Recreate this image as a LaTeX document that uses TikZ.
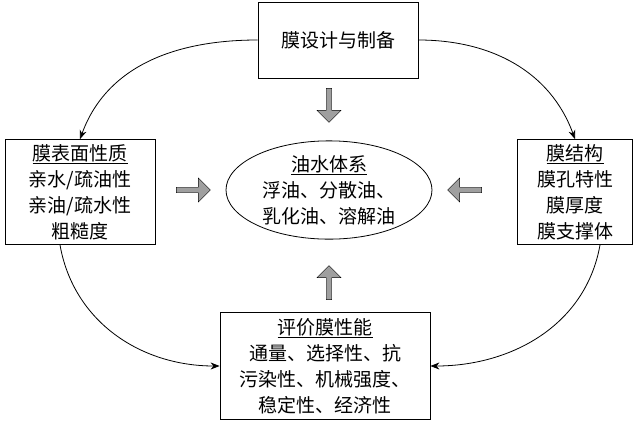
\documentclass[tikz,border=0pt]{standalone}
\usepackage{fontspec}
\setmainfont{Noto Sans CJK SC}
\usetikzlibrary{shapes.arrows,shapes.geometric,arrows.meta}
\begin{document}
\begin{tikzpicture}[
    x=1pt, y=-1pt,
    box/.style={draw, thick, fill=white, align=center, font=\fontsize{19}{26}\selectfont},
    link/.style={thick, -{Stealth[length=9pt,width=7pt]}},
    fat/.style={single arrow, draw=black, fill=gray!75, minimum height=34pt,
                minimum width=24pt, single arrow head extend=4pt, inner sep=1pt}]
    \useasboundingbox (0,0) rectangle (640,424);
    % Kaesten
    \node[box, minimum width=160pt, minimum height=76pt] (design) at (338,40) {膜设计与制备};
    \node[box, minimum width=150pt, minimum height=105pt, inner sep=2pt] (surface) at (80,192)
        {\underline{膜表面性质}\\亲水/疏油性\\亲油/疏水性\\粗糙度};
    \node[box, minimum width=115pt, minimum height=105pt, inner sep=2pt] (structure) at (575,192)
        {\underline{膜结构}\\膜孔特性\\膜厚度\\膜支撑体};
    \node[box, minimum width=210pt, minimum height=107pt, inner sep=2pt] (eval) at (325,366)
        {\underline{评价膜性能}\\通量、选择性、抗\\污染性、机械强度、\\稳定性、经济性};
    \node[draw, thick, ellipse, minimum width=206pt, minimum height=96pt, align=center,
          font=\fontsize{19}{26}\selectfont, inner sep=0pt] (oil) at (329,190)
        {\underline{油水体系}\\浮油、分散油、\\乳化油、溶解油};
    % Blockpfeile
    \node[fat, rotate=-90] (arrTop) at (329,104) {};
    \node[fat] (arrLeft) at (192,190) {};
    \node[fat, rotate=180] (arrRight) at (466,190) {};
    \node[fat, rotate=90] (arrBottom) at (329,284) {};
    % Boegen
    \draw[link] (design.west) to[out=180, in=70] (surface.north);
    \draw[link] (design.east) to[out=0, in=110] (structure.north);
    \draw[link] ([xshift=-20pt]surface.south) to[out=-80, in=180] (eval.west);
    \draw[link] ([xshift=25pt]structure.south) to[out=-100, in=0] (eval.east);
\end{tikzpicture}
\end{document}
